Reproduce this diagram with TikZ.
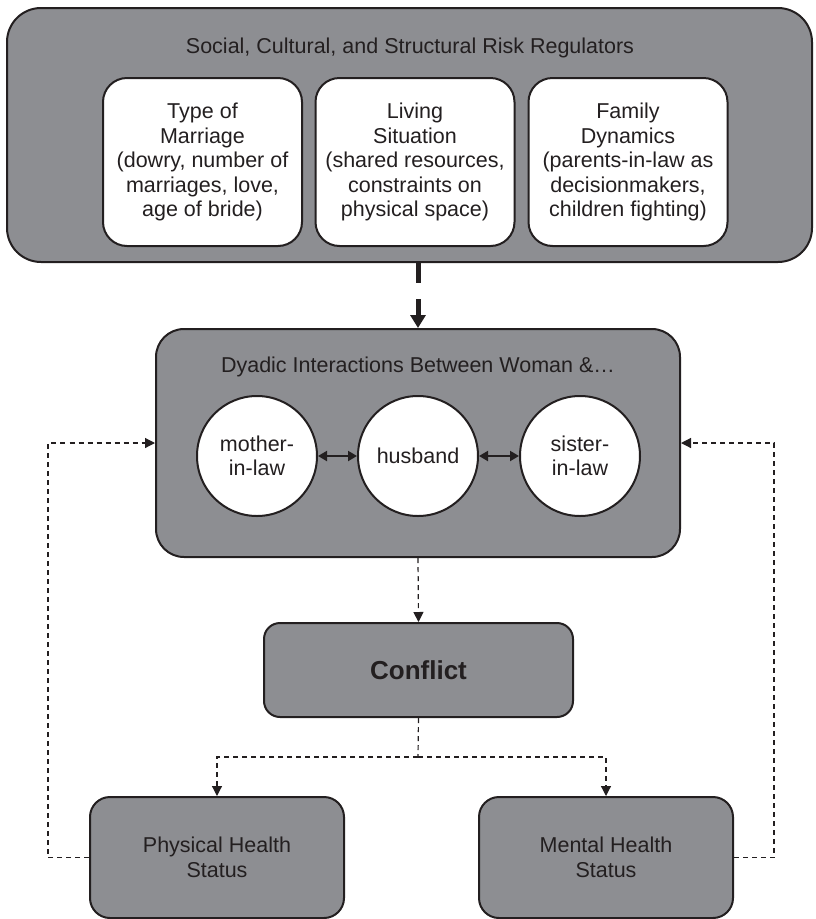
\documentclass[tikz,border=0pt]{standalone}
\usepackage{fontspec}
\setmainfont{Liberation Sans}
\usetikzlibrary{arrows.meta, positioning, calc}
\definecolor{boxgray}{RGB}{141,142,146}
\definecolor{ink}{RGB}{35,31,32}
\tikzset{
  diagram/.style={
	x=1pt, y=-1pt, % one unit per pixel, y runs downwards
	font=\fontsize{21.5}{24.5}\selectfont, % text size of all labels
	every node/.style={text=ink},
  },
  graybox/.style={draw=ink, line width=2pt, fill=boxgray, rounded corners=#1, inner sep=0pt}, % the gray panels
  graybox/.default=18pt,
  whitebox/.style={draw=ink, line width=2pt, fill=white, rounded corners=24pt, align=center,
	minimum width=199pt, minimum height=168pt, inner sep=0pt}, % the risk regulators
  person/.style={circle, draw=ink, line width=2pt, fill=white, align=center,
	minimum size=120pt, inner sep=0pt}, % one member of the family
  bigarrow/.style={draw=ink, line width=5pt, dash pattern=on 20pt off 16pt,
	-{Triangle[length=13pt,width=15pt]}}, % the thick arrow on top
  feedback/.style={draw=ink, line width=1.2pt, dash pattern=on 5pt off 4pt,
	-{Triangle[length=10pt,width=10pt]}}, % thin dashed arrows
  twoway/.style={draw=ink, line width=2pt, {Triangle[length=9pt,width=10pt]}-{Triangle[length=9pt,width=10pt]}},
}

\begin{document}
\begin{tikzpicture}[diagram]
\useasboundingbox (0,0) rectangle (815,919);

% risk regulators
\node[graybox=34pt, minimum width=805pt, minimum height=254pt] (regulators) at (409.5,135) {};
\node (regtitle) at (410,48) {Social, Cultural, and Structural Risk Regulators};
\node[whitebox] (marriage) at (202.5,162) {Type of\\Marriage\\(dowry, number of\\marriages, love,\\age of bride)};
\node[whitebox] (living) at (415,162) {Living\\Situation\\(shared resources,\\constraints on\\physical space)};
\node[whitebox] (family) at (628,162) {Family\\Dynamics\\(parents-in-law as\\decisionmakers,\\children fighting)};

% dyadic interactions
\node[graybox=28pt, minimum width=524pt, minimum height=228pt] (dyad) at (418,443) {};
\node (dyadtitle) at (418,367) {Dyadic Interactions Between Woman \&\ldots};
\node[person] (mother) at (257,456) {mother-\\in-law};
\node[person] (husband) at (418,456) {husband};
\node[person] (sister) at (580,456) {sister-\\in-law};

% outcomes
\node[graybox=16pt, minimum width=309pt, minimum height=94pt, font=\fontsize{26}{30}\selectfont\bfseries] (conflict) at (418.5,670) {Conflict};
\node[graybox=20pt, minimum width=254pt, minimum height=121pt, align=center] (physical) at (217,857.5) {Physical Health\\Status};
\node[graybox=20pt, minimum width=254pt, minimum height=121pt, align=center] (mental) at (606,857.5) {Mental Health\\Status};
\coordinate (split) at (418,757);

\draw[bigarrow] (dyad.north |- regulators.south) -- (dyad.north);
\draw[twoway] (mother) -- (husband);
\draw[twoway] (husband) -- (sister);
\draw[feedback] (dyad.south) -- (conflict.north);
\draw[feedback, -] (conflict.south) -- (split);
\draw[feedback] (split) -| (physical.north);
\draw[feedback] (split) -| (mental.north);
\draw[feedback] (physical.west) -- ++(-41,0) |- (dyad.west);
\draw[feedback] (mental.east) -- ++(40,0) |- (dyad.east);
\end{tikzpicture}
\end{document}
